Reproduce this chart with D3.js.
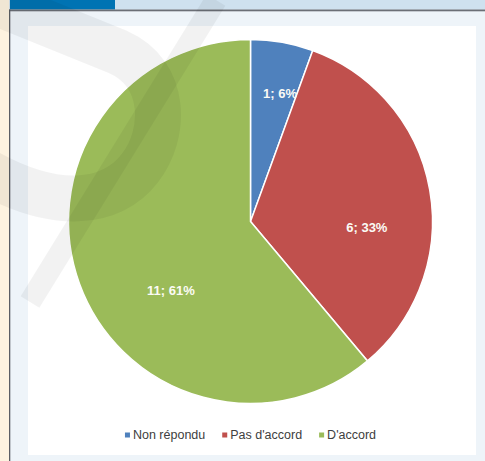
<!DOCTYPE html>
<html>
<head>
<meta charset="utf-8">
<script src="https://cdn.jsdelivr.net/npm/d3@7/dist/d3.min.js"></script>
<style>
html,body{margin:0;padding:0;background:#fff;}
svg{display:block;}
</style>
</head>
<body>
<svg id="chart" width="485" height="461"></svg>
<script>
// ---- data ----
const categories = ["Non répondu", "Pas d'accord", "D'accord"];
const counts = [1, 6, 11];
const colors = ["#4f81bd", "#c0504d", "#9bbb59"];

// ---- layout ----
const W = 485, H = 461;
const svg = d3.select("#chart");

// frame / page decoration
svg.append("rect").attr("x", 0).attr("y", 0).attr("width", W).attr("height", H).attr("fill", "#eef4f9");
svg.append("rect").attr("x", 0).attr("y", 0).attr("width", 9).attr("height", H).attr("fill", "#fdf3e0");
svg.append("rect").attr("x", 9).attr("y", 0).attr("width", W - 9).attr("height", 9.5).attr("fill", "#cfe1ef");
svg.append("rect").attr("x", 10).attr("y", 0).attr("width", 105).attr("height", 9.5).attr("fill", "#0073b3");
svg.append("rect").attr("x", 9).attr("y", 9.5).attr("width", W - 9).attr("height", 1.8).attr("fill", "#6b6f76");
svg.append("rect").attr("x", 9).attr("y", 9.5).attr("width", 1.3).attr("height", H).attr("fill", "#5a5e64");
svg.append("rect").attr("x", 28).attr("y", 26).attr("width", 448).attr("height", 429).attr("fill", "#ffffff");

// pie
const cx = 250.5, cy = 221.5, R = 182;
const total = d3.sum(counts);
const pie = d3.pie().sort(null).value(d => d)(counts);
const arc = d3.arc().innerRadius(0).outerRadius(R);
const g = svg.append("g").attr("transform", `translate(${cx},${cy})`);
g.selectAll("path.slice").data(pie).join("path")
  .attr("class", "slice")
  .attr("d", arc)
  .attr("fill", (d, i) => colors[i])
  .attr("stroke", "#ffffff")
  .attr("stroke-width", 1.5);

// data labels (Excel "best fit" placement approximated)
const labelNudge = [{da: 3, f: 0.72}, {da: 13, f: 0.64}, {da: -21, f: 0.58}];
g.selectAll("text.lbl").data(pie).join("text")
  .attr("class", "lbl")
  .attr("transform", (d, i) => {
    const a = (d.startAngle + d.endAngle) / 2 + labelNudge[i].da * Math.PI / 180;
    const r = R * labelNudge[i].f;
    return `translate(${r * Math.sin(a)},${-r * Math.cos(a)})`;
  })
  .attr("text-anchor", "middle")
  .attr("dy", "0.35em")
  .attr("fill", "#fbfbf5")
  .attr("font-family", "Liberation Sans, Arial, sans-serif")
  .attr("font-weight", "bold")
  .attr("font-size", 13)
  .text(d => `${d.data}; ${Math.round(d.data / total * 100)}%`);

// watermark (faint grey strokes over the page)
const wm = svg.append("g").attr("fill", "none").attr("stroke", "#000").attr("stroke-opacity", 0.05);
wm.append("path")
  .attr("d", "M -25,-6 L 118,52 C 168,74 166,135 140,168 C 112,205 55,212 -20,168")
  .attr("stroke-width", 46);
wm.append("path")
  .attr("d", "M 216,0 L 30,302")
  .attr("stroke-width", 22);

// legend
const legend = svg.append("g").attr("font-family", "Liberation Sans, Arial, sans-serif").attr("font-size", 12.5);
const items = legend.selectAll("g").data(categories).join("g");
items.append("rect").attr("width", 5).attr("height", 5).attr("y", -2.5).attr("fill", (d, i) => colors[i]);
items.append("text").attr("x", 8).attr("dy", "0.35em").attr("fill", "#404040").text(d => d);
let x = 0;
const widths = [];
items.each(function() {
  widths.push(this.querySelector("text").getComputedTextLength());
});
const offsets = [];
widths.forEach((w) => { offsets.push(x); x += 8 + w + 17; });
const totalW = x - 17;
items.attr("transform", (d, i) => `translate(${cx - totalW / 2 + offsets[i]},435)`);
</script>
</body>
</html>
